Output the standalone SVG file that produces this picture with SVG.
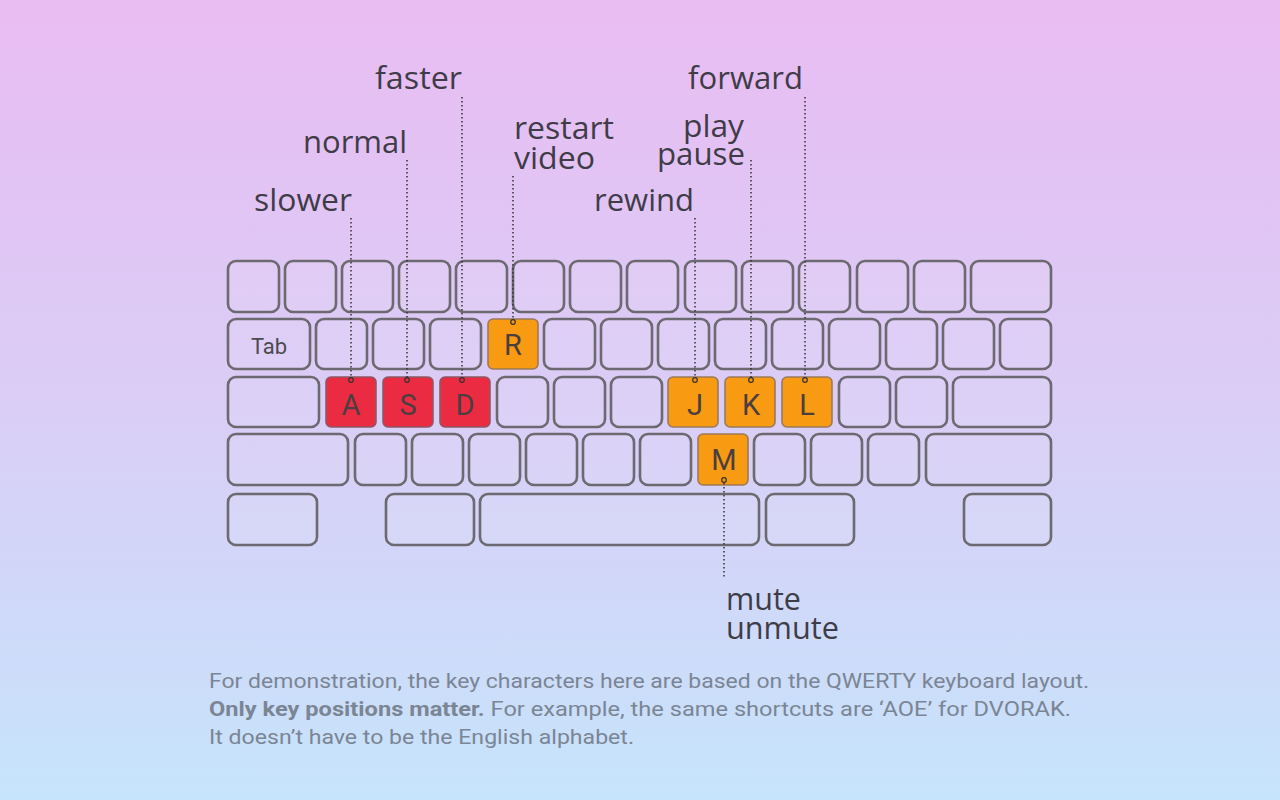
<svg xmlns="http://www.w3.org/2000/svg" width="1280" height="800" viewBox="0 0 1280 800">
<defs>
<linearGradient id="bg" x1="0" y1="0" x2="0" y2="1">
<stop offset="0" stop-color="#e9bcf2"/>
<stop offset="0.5" stop-color="#dacdf6"/>
<stop offset="1" stop-color="#c6e4fb"/>
</linearGradient>
</defs>
<style>
.k{fill:#ffffff;fill-opacity:0.08;stroke:#6c6a70;stroke-width:2.6}
.r{fill:#ea2b42;stroke:#8c5a66;stroke-width:1.6}
.o{fill:#f89a12;stroke:#9a7a5a;stroke-width:1.6}
.kl{font-family:Roboto,"Liberation Sans",sans-serif;font-size:29px;fill:#4a3e40;text-anchor:middle}
.lb{font-family:"Open Sans","Noto Sans",sans-serif;font-size:31px;fill:#3f3c48}
.ft{font-family:Roboto,"Liberation Sans",sans-serif;font-size:21px;fill:#7b8594}
.dl{stroke:#333;stroke-width:1.5;stroke-dasharray:1.5 2.5;fill:none}
.dot{fill:none;stroke:#333;stroke-width:1.2}
</style>
<rect width="1280" height="800" fill="url(#bg)"/>

<g id="row1">
<rect class="k" x="228" y="261" width="51" height="51" rx="8"/>
<rect class="k" x="285" y="261" width="51" height="51" rx="8"/>
<rect class="k" x="342" y="261" width="51" height="51" rx="8"/>
<rect class="k" x="399" y="261" width="51" height="51" rx="8"/>
<rect class="k" x="456" y="261" width="51" height="51" rx="8"/>
<rect class="k" x="513" y="261" width="51" height="51" rx="8"/>
<rect class="k" x="570" y="261" width="51" height="51" rx="8"/>
<rect class="k" x="627" y="261" width="51" height="51" rx="8"/>
<rect class="k" x="685" y="261" width="51" height="51" rx="8"/>
<rect class="k" x="742" y="261" width="51" height="51" rx="8"/>
<rect class="k" x="799" y="261" width="51" height="51" rx="8"/>
<rect class="k" x="857" y="261" width="51" height="51" rx="8"/>
<rect class="k" x="914" y="261" width="51" height="51" rx="8"/>
<rect class="k" x="971" y="261" width="80" height="51" rx="8"/>
</g>

<g id="row2">
<rect class="k" x="228" y="319" width="82" height="50" rx="8"/>
<text x="269" y="354" font-family="Roboto,'Liberation Sans',sans-serif" font-size="22" fill="#4a4a50" text-anchor="middle">Tab</text>
<rect class="k" x="316" y="319" width="51" height="50" rx="8"/>
<rect class="k" x="373" y="319" width="51" height="50" rx="8"/>
<rect class="k" x="430" y="319" width="51" height="50" rx="8"/>
<rect class="k" x="544" y="319" width="51" height="50" rx="8"/>
<rect class="k" x="601" y="319" width="51" height="50" rx="8"/>
<rect class="k" x="658" y="319" width="51" height="50" rx="8"/>
<rect class="k" x="715" y="319" width="51" height="50" rx="8"/>
<rect class="k" x="772" y="319" width="51" height="50" rx="8"/>
<rect class="k" x="829" y="319" width="51" height="50" rx="8"/>
<rect class="k" x="886" y="319" width="51" height="50" rx="8"/>
<rect class="k" x="943" y="319" width="51" height="50" rx="8"/>
<rect class="k" x="1000" y="319" width="51" height="50" rx="8"/>
</g>
<g id="key-R">
<rect class="o" x="488" y="319" width="50" height="50" rx="5"/>
<text class="kl" x="513" y="355">R</text>
</g>

<g id="row3">
<rect class="k" x="228" y="377" width="91" height="50" rx="8"/>
<rect class="k" x="497" y="377" width="51" height="50" rx="8"/>
<rect class="k" x="554" y="377" width="51" height="50" rx="8"/>
<rect class="k" x="611" y="377" width="51" height="50" rx="8"/>
<rect class="k" x="839" y="377" width="51" height="50" rx="8"/>
<rect class="k" x="896" y="377" width="51" height="50" rx="8"/>
<rect class="k" x="953" y="377" width="98" height="50" rx="8"/>
</g>
<g id="key-A">
<rect class="r" x="326" y="377" width="50" height="50" rx="5"/>
<text class="kl" x="351" y="415">A</text>
</g>
<g id="key-S">
<rect class="r" x="383" y="377" width="50" height="50" rx="5"/>
<text class="kl" x="408" y="415">S</text>
</g>
<g id="key-D">
<rect class="r" x="440" y="377" width="50" height="50" rx="5"/>
<text class="kl" x="465" y="415">D</text>
</g>
<g id="key-J">
<rect class="o" x="668" y="377" width="50" height="50" rx="5"/>
<text class="kl" x="695" y="415">J</text>
</g>
<g id="key-K">
<rect class="o" x="725" y="377" width="50" height="50" rx="5"/>
<text class="kl" x="751" y="415">K</text>
</g>
<g id="key-L">
<rect class="o" x="782" y="377" width="50" height="50" rx="5"/>
<text class="kl" x="807" y="415">L</text>
</g>

<g id="row4">
<rect class="k" x="228" y="434" width="120" height="51" rx="8"/>
<rect class="k" x="355" y="434" width="51" height="51" rx="8"/>
<rect class="k" x="412" y="434" width="51" height="51" rx="8"/>
<rect class="k" x="469" y="434" width="51" height="51" rx="8"/>
<rect class="k" x="526" y="434" width="51" height="51" rx="8"/>
<rect class="k" x="583" y="434" width="51" height="51" rx="8"/>
<rect class="k" x="640" y="434" width="51" height="51" rx="8"/>
<rect class="k" x="754" y="434" width="51" height="51" rx="8"/>
<rect class="k" x="811" y="434" width="51" height="51" rx="8"/>
<rect class="k" x="868" y="434" width="51" height="51" rx="8"/>
<rect class="k" x="926" y="434" width="125" height="51" rx="8"/>
</g>
<g id="key-M">
<rect class="o" x="698" y="434" width="50" height="51" rx="5"/>
<text class="kl" x="724" y="470">M</text>
</g>

<g id="row5">
<rect class="k" x="228" y="494" width="89" height="51" rx="8"/>
<rect class="k" x="386" y="494" width="88" height="51" rx="8"/>
<rect class="k" x="480" y="494" width="279" height="51" rx="8"/>
<rect class="k" x="766" y="494" width="88" height="51" rx="8"/>
<rect class="k" x="964" y="494" width="87" height="51" rx="8"/>
</g>

<g id="connectors">
<line class="dl" x1="351" y1="218" x2="351" y2="378"/>
<line class="dl" x1="407" y1="160" x2="407" y2="378"/>
<line class="dl" x1="462" y1="97" x2="462" y2="378"/>
<line class="dl" x1="513" y1="176" x2="513" y2="320"/>
<line class="dl" x1="695" y1="218" x2="695" y2="378"/>
<line class="dl" x1="751" y1="160" x2="751" y2="378"/>
<line class="dl" x1="805" y1="97" x2="805" y2="378"/>
<line class="dl" x1="724" y1="483" x2="724" y2="578"/>
<circle class="dot" cx="351" cy="380" r="2.3"/>
<circle class="dot" cx="407" cy="380" r="2.3"/>
<circle class="dot" cx="462" cy="380" r="2.3"/>
<circle class="dot" cx="513" cy="322" r="2.3"/>
<circle class="dot" cx="695" cy="380" r="2.3"/>
<circle class="dot" cx="751" cy="380" r="2.3"/>
<circle class="dot" cx="805" cy="380" r="2.3"/>
<circle class="dot" cx="724" cy="480" r="2.3"/>
</g>

<g id="label-slower"><text class="lb" x="254" y="211" textLength="98" lengthAdjust="spacingAndGlyphs">slower</text></g>
<g id="label-normal"><text class="lb" x="303" y="153" textLength="104" lengthAdjust="spacingAndGlyphs">normal</text></g>
<g id="label-faster"><text class="lb" x="375" y="89" textLength="87" lengthAdjust="spacingAndGlyphs">faster</text></g>
<g id="label-restart">
<text class="lb" x="514" y="139" textLength="100" lengthAdjust="spacingAndGlyphs">restart</text>
<text class="lb" x="514" y="169" textLength="81" lengthAdjust="spacingAndGlyphs">video</text>
</g>
<g id="label-rewind"><text class="lb" x="594" y="211" textLength="100" lengthAdjust="spacingAndGlyphs">rewind</text></g>
<g id="label-playpause">
<text class="lb" x="683" y="137" textLength="61" lengthAdjust="spacingAndGlyphs">play</text>
<text class="lb" x="657" y="165" textLength="88" lengthAdjust="spacingAndGlyphs">pause</text>
</g>
<g id="label-forward"><text class="lb" x="688" y="89" textLength="115" lengthAdjust="spacingAndGlyphs">forward</text></g>
<g id="label-mute">
<text class="lb" x="726" y="610" textLength="75" lengthAdjust="spacingAndGlyphs">mute</text>
<text class="lb" x="726" y="639" textLength="113" lengthAdjust="spacingAndGlyphs">unmute</text>
</g>

<g id="footnote">
<text class="ft" x="209" y="688" textLength="880" lengthAdjust="spacingAndGlyphs">For demonstration, the key characters here are based on the QWERTY keyboard layout.</text>
<text class="ft" x="209" y="716" textLength="862" lengthAdjust="spacingAndGlyphs"><tspan font-weight="bold">Only key positions matter.</tspan> For example, the same shortcuts are ‘AOE’ for DVORAK.</text>
<text class="ft" x="209" y="744" textLength="425" lengthAdjust="spacingAndGlyphs">It doesn’t have to be the English alphabet.</text>
</g>
</svg>
